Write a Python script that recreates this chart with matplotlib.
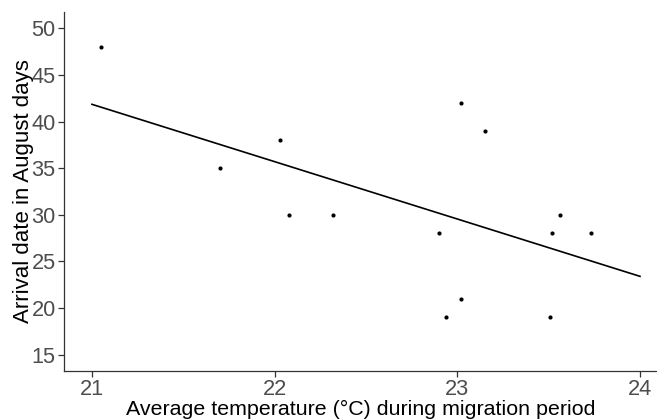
import matplotlib
matplotlib.use("Agg")
import matplotlib.pyplot as plt

temperature = [21.05, 21.70, 22.03, 22.08, 22.32, 22.90, 22.94, 23.02, 23.02, 23.15, 23.51, 23.52, 23.56, 23.73]
arrival_day = [48, 35, 38, 30, 30, 28, 19, 42, 21, 39, 19, 28, 30, 28]
fit_x = [21, 24]
fit_y = [41.85, 23.40]
x_ticks = [21, 22, 23, 24]
y_ticks = [15, 20, 25, 30, 35, 40, 45, 50]

plt.rcParams['font.family'] = ['Liberation Sans', 'DejaVu Sans']

fig = plt.figure(figsize=(6.57, 4.2), dpi=100)
W, H = 657, 420
ax = fig.add_axes([64 / W, (H - 371) / H, (657 - 64) / W, (371 - 12) / H])

ax.plot(fit_x, fit_y, color='black', lw=1.2, zorder=2)
ax.scatter(temperature, arrival_day, s=9, color='black', zorder=3, linewidths=0)

ax.set_xlim(20.847, 24.093)
ax.set_ylim(13.25, 51.75)
ax.set_xticks(x_ticks)
ax.set_yticks(y_ticks)

for s in ['top', 'right']:
    ax.spines[s].set_visible(False)
for s in ['left', 'bottom']:
    ax.spines[s].set_color('#333333')
    ax.spines[s].set_linewidth(0.9)

ax.tick_params(axis='both', colors='#333333', length=4, width=0.9,
               labelsize=15.7, labelcolor='#4D4D4D', pad=2)
ax.tick_params(axis='x', pad=1.5)

ax.set_xlabel('Average temperature (°C) during migration period', fontsize=15.4, color='black', labelpad=0.5)
ax.set_ylabel('Arrival date in August days', fontsize=16, color='black', labelpad=-1.5)

fig.savefig('out.png', dpi=100)
